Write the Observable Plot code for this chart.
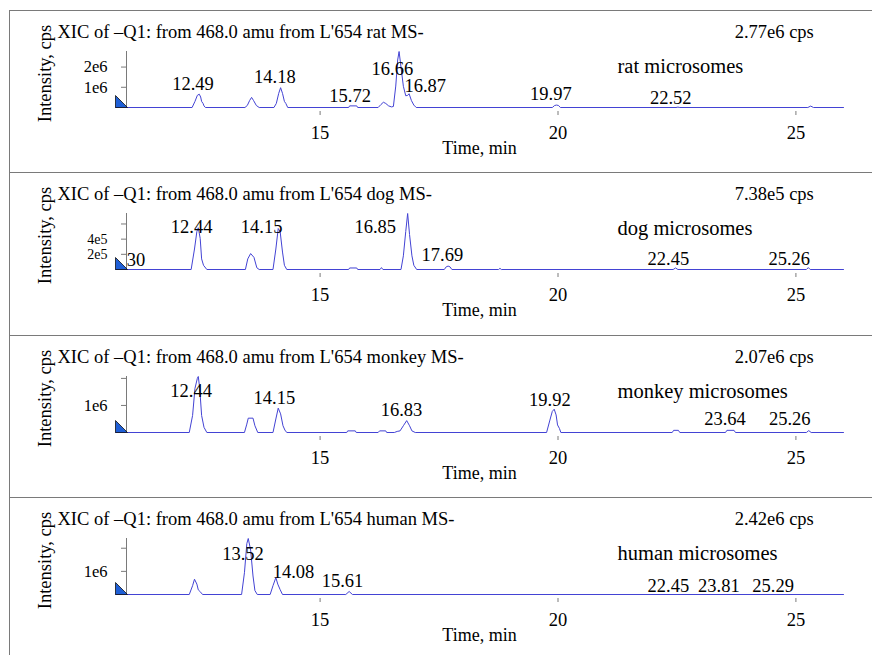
<!DOCTYPE html>
<html><head><meta charset="utf-8">
<script src="https://cdn.jsdelivr.net/npm/d3@7"></script>
<script src="https://cdn.jsdelivr.net/npm/@observablehq/plot@0.6"></script>
<style>
body{margin:0;background:#fff}
#wrap{position:relative;width:872px;height:655px;overflow:hidden;background:#fff}
.panel{position:absolute;left:9px;width:900px;border-top:1.5px solid #7a7a7a;border-left:1.5px solid #7a7a7a;box-sizing:border-box}
.chart{position:absolute;left:0}
svg.chart text{font-family:"Liberation Serif","Times New Roman",serif !important}
</style></head><body><div id="wrap"></div><script>
// ---- data ----
const xTicks = [15, 20, 25];
const titles = [
  "XIC of \u2013Q1: from 468.0 amu from L'654 rat MS-",
  "XIC of \u2013Q1: from 468.0 amu from L'654 dog MS-",
  "XIC of \u2013Q1: from 468.0 amu from L'654 monkey MS-",
  "XIC of \u2013Q1: from 468.0 amu from L'654 human MS-"
];
const maxCps = [2.77e6, 7.38e5, 2.07e6, 2.42e6];
const maxText = ["2.77e6 cps", "7.38e5 cps", "2.07e6 cps", "2.42e6 cps"];
const sampleText = ["rat microsomes", "dog microsomes", "monkey microsomes", "human microsomes"];

const ratYTicks = [1e6, 2e6];            const ratYLabels = ["1e6", "2e6"];
const dogYTicks = [2e5, 4e5, 6e5];       const dogYLabels = ["2e5", "4e5", ""];
const monkeyYTicks = [1e6, 2e6];         const monkeyYLabels = ["1e6", ""];
const humanYTicks = [1e6, 2e6];          const humanYLabels = ["1e6", ""];

const ratTime = [10.70,12.31,12.37,12.42,12.46,12.49,12.51,12.54,12.56,12.59,13.42,13.47,13.52,13.56,13.60,13.66,13.72,14.03,14.08,14.13,14.17,14.21,14.25,14.28,14.32,15.60,15.62,15.77,15.79,16.22,16.28,16.33,16.38,16.44,16.50,16.54,16.59,16.63,16.66,16.70,16.75,16.80,16.84,16.87,16.92,16.97,17.02,19.88,19.93,19.97,20.01,20.05,22.48,22.52,22.56,25.25,25.31,25.37,26.00];
const ratInt = [0,0,0.30e6,0.60e6,0.66e6,0.52e6,0.30e6,0.20e6,0.08e6,0,0,0.10e6,0.35e6,0.50e6,0.35e6,0.10e6,0,0,0.20e6,0.70e6,0.98e6,0.70e6,0.30e6,0.20e6,0,0,0.08e6,0.08e6,0,0,0.15e6,0.26e6,0.20e6,0.08e6,0.03e6,0.05e6,1.06e6,2.35e6,2.77e6,2.00e6,1.05e6,0.58e6,0.60e6,0.68e6,0.34e6,0.12e6,0,0,0.10e6,0.12e6,0.10e6,0,0,0.02e6,0,0,0.07e6,0,0];

const dogTime = [10.70,12.29,12.36,12.41,12.44,12.48,12.51,12.55,12.62,13.43,13.48,13.54,13.61,13.67,13.72,14.01,14.07,14.12,14.16,14.21,14.25,14.30,15.60,15.62,15.77,15.79,16.26,16.29,16.32,16.70,16.75,16.80,16.84,16.88,16.93,16.97,17.03,17.61,17.65,17.69,17.73,17.77,18.75,18.78,18.81,22.42,22.47,22.52,25.22,25.26,25.30,26.00];
const dogInt = [0,0,2.7e5,5.0e5,5.5e5,4.1e5,1.4e5,0.55e5,0,0,1.4e5,2.1e5,1.6e5,0.23e5,0,0,2.7e5,5.4e5,5.0e5,2.3e5,0.55e5,0,0,0.2e5,0.2e5,0,0,0.25e5,0,0,1.8e5,5.0e5,7.38e5,4.6e5,1.8e5,0.55e5,0,0,0.35e5,0.45e5,0.35e5,0,0,0.15e5,0,0,0.2e5,0,0,0.25e5,0,0];

const monkeyTime = [10.70,12.25,12.32,12.37,12.42,12.44,12.47,12.51,12.56,12.62,13.41,13.46,13.49,13.59,13.63,13.69,14.01,14.07,14.12,14.17,14.22,14.26,14.30,15.56,15.58,15.74,15.76,16.22,16.25,16.38,16.40,16.56,16.62,16.68,16.75,16.82,16.88,16.93,17.00,19.76,19.83,19.88,19.92,19.96,19.99,20.03,20.06,22.40,22.43,22.53,22.56,23.52,23.55,23.70,23.73,25.22,25.27,25.32,26.00];
const monkeyInt = [0,0,0.63e6,1.63e6,2.0e6,2.07e6,1.63e6,0.63e6,0.19e6,0,0,0.31e6,0.53e6,0.53e6,0.25e6,0,0,0.5e6,0.9e6,0.69e6,0.25e6,0.09e6,0,0,0.06e6,0.06e6,0,0,0.06e6,0.06e6,0,0,0.04e6,0.06e6,0.25e6,0.44e6,0.25e6,0.06e6,0,0,0.46e6,0.78e6,0.86e6,0.65e6,0.28e6,0.15e6,0,0,0.08e6,0.08e6,0,0,0.08e6,0.08e6,0,0,0.07e6,0,0];

const humanTime = [10.70,12.25,12.32,12.36,12.41,12.44,12.49,12.53,13.35,13.41,13.46,13.49,13.54,13.59,13.63,13.68,13.95,14.01,14.07,14.11,14.16,14.21,15.54,15.61,15.68,26.00];
const humanInt = [0,0,0.38e6,0.66e6,0.45e6,0.2e6,0.1e6,0,0,0.94e6,2.2e6,2.42e6,1.92e6,0.8e6,0.17e6,0,0,0.38e6,0.73e6,0.45e6,0.21e6,0,0,0.13e6,0,0];

// peak labels: text, anchor time (min), anchor intensity (cps)
const ratLabelText = ["12.49","14.18","15.72","16.66","16.87","19.97","22.52"];
const ratLabelTime = [12.33,14.05,15.63,16.52,17.21,19.85,22.37];
const ratLabelInt  = [0.87e6,1.19e6,0.27e6,1.61e6,0.75e6,0.39e6,0.19e6];

const dogLabelText = ["30","12.44","14.15","16.85","17.69","22.45","25.26"];
const dogLabelTime = [11.13,12.30,13.77,16.16,17.57,22.32,24.86];
const dogLabelInt  = [0.46e5,4.8e5,4.8e5,4.8e5,1.15e5,0.6e5,0.6e5];

const monkeyLabelText = ["12.44","14.15","16.83","19.92","23.64","25.26"];
const monkeyLabelTime = [12.29,14.04,16.71,19.83,23.51,24.87];
const monkeyLabelInt  = [1.32e6,1.06e6,0.62e6,0.99e6,0.27e6,0.27e6];

const humanLabelText = ["13.52","14.08","15.61","22.45","23.81","25.29"];
const humanLabelTime = [13.38,14.44,15.47,22.32,23.38,24.52];
const humanLabelInt  = [1.5e6,0.73e6,0.31e6,0.1e6,0.1e6,0.1e6];

// ---- assemble tables from the arrays ----
const zipTrace = (t, v) => t.map((d, i) => ({t: d, v: v[i]}));
const zipLabels = (s, t, v) => s.map((d, i) => ({s: d, t: t[i], v: v[i]}));
const traces = [zipTrace(ratTime, ratInt), zipTrace(dogTime, dogInt), zipTrace(monkeyTime, monkeyInt), zipTrace(humanTime, humanInt)];
const labels = [zipLabels(ratLabelText, ratLabelTime, ratLabelInt), zipLabels(dogLabelText, dogLabelTime, dogLabelInt),
  zipLabels(monkeyLabelText, monkeyLabelTime, monkeyLabelInt), zipLabels(humanLabelText, humanLabelTime, humanLabelInt)];
const yTicks = [ratYTicks, dogYTicks, monkeyYTicks, humanYTicks];
const yLabels = [ratYLabels, dogYLabels, monkeyYLabels, humanYLabels];

// ---- layout ----
const panelTops = [10, 172, 335, 497];
const panelHeights = [162, 163, 162, 170];
const yTickFont = [16.5, 14, 16.5, 16.5];
const FONT = "Liberation Serif";
const traceColor = "#4343d4";
const axisGray = "#7a7a7a";

const cornerTri = {draw(ctx, size) {
  const s = Math.sqrt(size);
  ctx.moveTo(-s / 2, -s / 2); ctx.lineTo(-s / 2, s / 2); ctx.lineTo(s / 2, s / 2); ctx.closePath();
}};

const wrap = document.getElementById("wrap");
traces.forEach((trace, i) => {
  const box = document.createElement("div");
  box.className = "panel";
  box.style.top = panelTops[i] + "px";
  box.style.height = panelHeights[i] + "px";
  wrap.appendChild(box);

  const xExt = d3.extent(trace, d => d.t);
  const fmt = new Map(yTicks[i].map((t, j) => [t, yLabels[i][j]]));
  const txt = {fontFamily: FONT, fill: "#000"};
  const chart = Plot.plot({
    width: 872, height: 162,
    marginLeft: 115, marginRight: 29, marginTop: 41, marginBottom: 65,
    x: {domain: xExt, axis: null},
    y: {domain: [0, maxCps[i]], axis: null},
    style: {fontFamily: FONT, fontSize: "17px", background: "transparent", overflow: "visible", color: "#000"},
    marks: [
      Plot.ruleX([xExt[0]], {dx: 11, stroke: axisGray}),
      Plot.axisY({anchor: "left", ticks: yTicks[i], tickFormat: d => fmt.get(d), dx: 11, tickSize: 5, tickPadding: 14,
        fontSize: yTickFont[i], fontFamily: FONT, stroke: axisGray, fill: "#000", label: null}),
      Plot.axisX({anchor: "bottom", ticks: xTicks, tickFormat: d => String(d), dy: 4, tickSize: 4, tickPadding: 10.5,
        fontSize: 18.5, fontFamily: FONT, stroke: axisGray, fill: "#000", label: null}),
      Plot.line(trace, {x: "t", y: "v", stroke: traceColor, strokeWidth: 1}),
      Plot.dot([xExt[0]], {x: d => d, y: () => 0, symbol: cornerTri, r: 6.77, dx: 6, dy: -6,
        fill: "#1f5fd6", stroke: "#111", strokeWidth: 0.8}),
      Plot.text(labels[i], {x: "t", y: "v", text: "s", lineAnchor: "bottom", textAnchor: "middle", fontSize: 18.5, ...txt}),
      Plot.text([titles[i]], {text: d => d, frameAnchor: "top-left", textAnchor: "start", lineAnchor: "bottom",
        dx: -58, dy: -13.7, fontSize: 18.5, ...txt}),
      Plot.text([maxText[i]], {text: d => d, frameAnchor: "top-right", textAnchor: "end", lineAnchor: "bottom",
        dx: -29.7, dy: -13.7, fontSize: 18.5, ...txt}),
      Plot.text([sampleText[i]], {text: d => d, frameAnchor: "top-left", textAnchor: "start", lineAnchor: "bottom",
        dx: 502, dy: 21.5, fontSize: 20.5, ...txt}),
      Plot.text(["Time, min"], {text: d => d, frameAnchor: "bottom", lineAnchor: "bottom", dy: 46, fontSize: 18, ...txt}),
      Plot.text(["Intensity, cps"], {text: d => d, frameAnchor: "left", rotate: -90, textAnchor: "middle", lineAnchor: "bottom",
        dx: -65, dy: -6, fontSize: 18.5, ...txt})
    ]
  });
  chart.classList.add("chart");
  chart.style.top = panelTops[i] + "px";
  wrap.appendChild(chart);
});
</script></body></html>
